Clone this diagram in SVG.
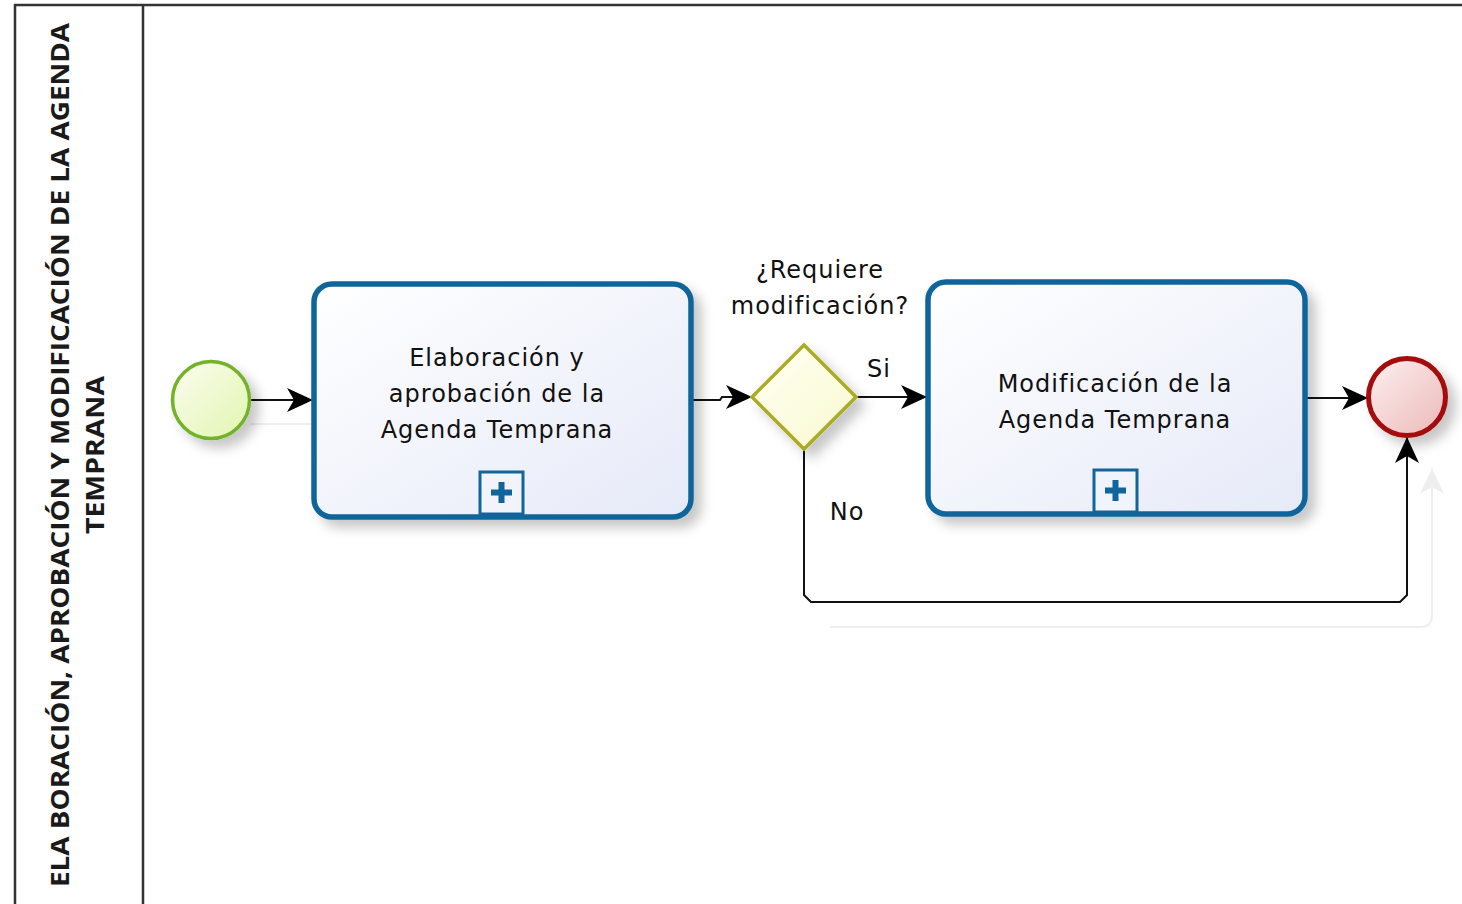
<svg xmlns="http://www.w3.org/2000/svg" width="1462" height="904" viewBox="0 0 1462 904">
<style>
.lane{fill:none;stroke:#333;stroke-width:2.5}
.title{font-family:"Open Sans","DejaVu Sans",sans-serif;font-weight:bold;font-size:25px;fill:#1a1a1a}
.lbl{font-family:"DejaVu Sans","Liberation Sans",sans-serif;font-size:24px;letter-spacing:1px;fill:#111}
.task{stroke:#10659b;stroke-width:5.5;fill:url(#gTask)}
.mark{stroke:#10659b;stroke-width:3;fill:#f2f4fc}
.flow{fill:none;stroke:#111;stroke-width:2}
.ghost{fill:none;stroke:#eeeeee;stroke-width:2}
</style>
<defs>
<linearGradient id="gTask" x1="0" y1="0" x2="1" y2="1"><stop offset="0" stop-color="#ffffff"/><stop offset="1" stop-color="#e6eaf8"/></linearGradient>
<linearGradient id="gStart" x1="0" y1="0" x2="1" y2="1"><stop offset="0" stop-color="#fbfdf0"/><stop offset="1" stop-color="#e2f5b0"/></linearGradient>
<linearGradient id="gEnd" x1="0" y1="0" x2="1" y2="1"><stop offset="0" stop-color="#fdf0f0"/><stop offset="1" stop-color="#ecb8b8"/></linearGradient>
<linearGradient id="gGate" x1="0" y1="0" x2="1" y2="1"><stop offset="0" stop-color="#fffff4"/><stop offset="1" stop-color="#fafad0"/></linearGradient>
<filter id="sh" x="-20%" y="-20%" width="150%" height="150%"><feDropShadow dx="8" dy="8" stdDeviation="6" flood-color="#000" flood-opacity="0.22"/></filter>
<marker id="arr" markerUnits="userSpaceOnUse" markerWidth="28" markerHeight="26" refX="26" refY="13" orient="auto"><path d="M0,1 L26,13 L0,25 L7,13 z" fill="#000"/></marker>
<marker id="arrG" markerUnits="userSpaceOnUse" markerWidth="28" markerHeight="26" refX="26" refY="13" orient="auto"><path d="M0,1 L26,13 L0,25 L7,13 z" fill="#eeeeee"/></marker>
</defs>
<rect width="1462" height="904" fill="#fff"/>
<g id="pool">
<path class="lane" d="M1462,5 H15 V904 M143,5 V904"/>
<text class="title" transform="translate(69,455) rotate(-90)" text-anchor="middle" textLength="864" lengthAdjust="spacingAndGlyphs">ELA BORACIÓN, APROBACIÓN Y MODIFICACIÓN DE LA AGENDA</text>
<text class="title" transform="translate(104,455) rotate(-90)" text-anchor="middle" textLength="158" lengthAdjust="spacingAndGlyphs">TEMPRANA</text>
</g>
<g id="connectors">
<path class="ghost" d="M250,424 H313"/>
<path class="ghost" d="M830,627 H1420 Q1432,627 1432,615 V468" marker-end="url(#arrG)"/>
<path class="flow" d="M250,400 H313" marker-end="url(#arr)"/>
<path class="flow" d="M691,400 H720 L722,397 H752" marker-end="url(#arr)"/>
<path class="flow" d="M856,397 H927" marker-end="url(#arr)"/>
<path class="flow" d="M1305,398 H1368" marker-end="url(#arr)"/>
<path class="flow" d="M804,449 V595 L811,602 H1400 L1407,595 V437" marker-end="url(#arr)"/>
<text class="lbl" x="879" y="377" text-anchor="middle">Si</text>
<text class="lbl" x="847" y="520" text-anchor="middle">No</text>
</g>
<g id="start">
<circle cx="211" cy="400" r="38.5" fill="url(#gStart)" stroke="#72b32c" stroke-width="3.5" filter="url(#sh)"/>
</g>
<g id="task1">
<rect class="task" x="314" y="284" width="377" height="233" rx="18" filter="url(#sh)"/>
<text class="lbl" text-anchor="middle"><tspan x="497" y="366">Elaboración y</tspan><tspan x="497" y="402">aprobación de la</tspan><tspan x="497" y="438">Agenda Temprana</tspan></text>
<rect class="mark" x="480" y="472" width="43" height="42"/>
<path d="M501.5,482 V503 M491,492.5 H512" stroke="#10659b" stroke-width="6"/>
</g>
<g id="gateway">
<path d="M804,345 L856,397 L804,449 L752,397 z" fill="url(#gGate)" stroke="#abab26" stroke-width="3.5" filter="url(#sh)"/>
<text class="lbl" text-anchor="middle"><tspan x="820" y="278">¿Requiere</tspan><tspan x="820" y="314">modificación?</tspan></text>
</g>
<g id="task2">
<rect class="task" x="928" y="282" width="377" height="232" rx="18" filter="url(#sh)"/>
<text class="lbl" text-anchor="middle"><tspan x="1115" y="392">Modificación de la</tspan><tspan x="1115" y="428">Agenda Temprana</tspan></text>
<rect class="mark" x="1094" y="470" width="43" height="42"/>
<path d="M1115.5,480 V501 M1105,490.5 H1126" stroke="#10659b" stroke-width="6"/>
</g>
<g id="end">
<circle cx="1407" cy="397" r="38.5" fill="url(#gEnd)" stroke="#a30a0a" stroke-width="5" filter="url(#sh)"/>
</g>
</svg>
